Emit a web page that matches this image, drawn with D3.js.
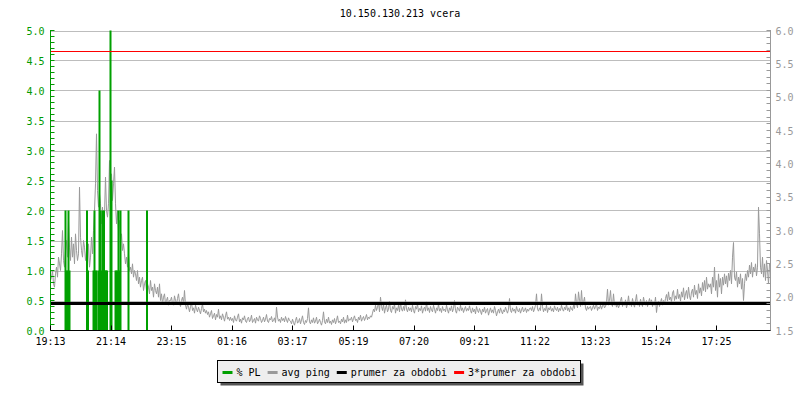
<!DOCTYPE html>
<html><head><meta charset="utf-8">
<script src="https://cdn.jsdelivr.net/npm/d3@7"></script>
<style>
body{margin:0;background:#fff}
svg{display:block}
text{font-family:"DejaVu Sans Mono",monospace;font-size:10px}
</style>
</head><body>
<svg id="c" width="800" height="400"></svg>
<script>
const title = "10.150.130.213 vcera";
const startClock = "19:13";
const pingStepMin = 2;
const ping = [
2.25,2.3,2.4,2.2,2.15,2.35,2.45,2.3,2.6,2.5,2.4,2.65,3.0,2.55,2.45,2.7,2.85,2.6,3.15,2.75,2.55,2.9,2.6,2.8,2.5,2.95,2.7,2.55,2.65,3.65,2.9,2.7,2.6,2.85,2.75,2.55,2.7,2.5,2.8,2.45,2.6,2.9,2.65,3.0,3.3,3.7,4.45,3.6,3.35,3.55,3.4,3.1,3.35,3.0,3.25,3.8,3.3,3.2,3.4,4.05,
3.5,3.85,3.45,3.7,3.95,3.4,3.1,3.3,3.0,3.15,2.85,2.95,2.7,2.8,2.65,2.5,2.6,2.45,2.65,2.4,2.45,2.35,2.5,2.3,2.4,2.35,2.25,2.4,2.2,2.3,2.15,2.25,2.3,2.1,2.2,2.25,2.1,2.2,2.15,2.05,2.25,2.1,2.15,2.0,2.2,2.1,2.05,2.15,2.0,2.2,1.95,2.05,1.9,2.0,2.05,1.9,1.95,2.0,1.88,1.95,
1.95,2.0,1.9,1.88,2.02,1.95,1.9,1.98,2.05,1.92,1.86,1.95,2.0,1.9,2.1,1.88,1.82,1.9,1.85,1.78,1.86,1.92,1.8,1.84,1.76,1.88,1.82,1.78,1.85,1.8,1.75,1.83,1.9,1.78,1.82,1.76,1.8,1.74,1.78,1.7,1.75,1.8,1.68,1.72,1.76,1.66,1.74,1.7,1.82,1.68,1.72,1.66,1.75,1.7,1.64,1.72,1.78,1.67,1.7,1.65,
1.7,1.65,1.68,1.62,1.72,1.66,1.64,1.7,1.75,1.63,1.67,1.61,1.69,1.66,1.72,1.64,1.62,1.68,1.7,1.63,1.66,1.73,1.62,1.65,1.68,1.61,1.7,1.66,1.64,1.72,1.68,1.62,1.65,1.7,1.63,1.67,1.74,1.64,1.62,1.68,1.66,1.71,1.63,1.65,1.69,1.62,1.85,1.7,1.64,1.67,1.62,1.7,1.65,1.68,1.63,1.71,1.66,1.62,1.69,1.65,
1.64,1.6,1.67,1.62,1.58,1.65,1.7,1.61,1.63,1.68,1.6,1.66,1.72,1.62,1.59,1.65,1.62,1.68,1.84,1.63,1.6,1.66,1.62,1.69,1.61,1.64,1.7,1.6,1.63,1.67,1.62,1.58,1.65,1.78,1.63,1.6,1.67,1.62,1.7,1.61,1.64,1.59,1.66,1.62,1.68,1.6,1.65,1.72,1.62,1.64,1.6,1.67,1.63,1.7,1.61,1.66,1.62,1.73,1.64,1.67,
1.66,1.7,1.63,1.68,1.72,1.65,1.67,1.62,1.7,1.66,1.73,1.64,1.68,1.71,1.65,1.69,1.74,1.66,1.7,1.68,1.72,1.7,1.76,1.82,1.78,1.88,1.8,1.85,1.92,1.78,2.0,1.86,1.8,1.9,1.76,1.84,1.88,1.78,1.82,1.94,1.8,1.77,1.86,1.82,1.9,1.76,1.84,1.8,1.88,1.78,1.92,1.82,1.79,1.86,1.8,1.96,1.82,1.78,1.85,1.8,
1.84,1.78,1.88,1.8,1.76,1.86,1.82,1.9,1.78,1.83,1.8,1.87,1.76,1.82,1.85,1.79,1.93,1.8,1.84,1.77,1.86,1.81,1.78,1.88,1.82,1.76,1.84,1.8,1.9,1.79,1.83,1.77,1.86,1.8,1.82,1.78,1.88,1.81,1.76,1.84,1.8,1.87,1.78,1.83,1.95,1.8,1.76,1.85,1.82,1.79,1.88,1.8,1.84,1.77,1.82,1.86,1.79,1.83,1.8,1.87,
1.8,1.76,1.84,1.78,1.82,1.75,1.86,1.8,1.77,1.83,1.79,1.74,1.82,1.78,1.85,1.76,1.8,1.83,1.73,1.79,1.84,1.77,1.81,1.76,1.86,1.8,1.72,1.78,1.82,1.76,1.84,1.79,1.75,1.81,1.78,1.85,1.8,1.76,1.82,1.98,1.8,1.77,1.84,1.79,1.82,1.76,1.86,1.8,1.78,1.83,1.76,1.81,1.85,1.78,1.8,1.84,1.77,1.82,1.79,1.83,
1.84,1.8,1.86,1.78,1.82,1.88,2.05,1.82,1.79,1.84,1.8,2.05,1.86,1.78,1.83,1.8,1.88,1.77,1.84,1.81,1.86,1.79,1.83,1.78,1.87,1.82,1.8,1.85,1.78,1.83,1.8,1.88,1.82,1.79,1.85,1.81,1.9,1.8,1.84,1.78,1.86,1.82,1.8,1.88,1.83,2.05,1.9,1.84,2.08,1.95,1.86,2.1,1.88,1.92,2.0,1.84,1.8,1.86,1.82,1.85,
1.86,1.8,1.84,1.88,1.82,1.86,1.9,1.8,1.85,1.83,1.88,1.82,1.87,1.9,1.84,1.86,1.92,2.12,1.88,1.95,2.1,1.9,1.86,2.05,1.88,1.92,1.85,1.9,1.84,1.88,1.95,2.0,1.86,1.92,1.88,1.96,1.84,1.9,2.02,1.88,1.92,1.86,1.98,1.9,1.85,1.94,2.04,1.88,1.92,1.86,1.97,1.9,1.86,2.0,1.92,1.88,1.95,1.86,1.92,1.98,
1.9,1.96,1.86,1.92,1.88,2.0,1.77,1.9,1.94,1.86,1.92,1.98,1.88,1.95,1.9,1.98,2.04,1.94,2.08,1.96,2.0,1.93,2.06,2.1,1.95,2.02,1.97,2.12,1.98,2.04,1.94,2.08,2.0,2.14,1.96,2.05,2.1,1.98,2.15,2.02,1.96,2.08,2.12,2.0,2.18,2.04,2.1,1.98,2.2,2.06,2.14,2.02,2.22,2.1,2.25,2.08,2.3,2.12,2.2,2.15,
2.2,2.05,2.3,2.15,2.45,2.1,2.25,2.0,2.35,2.15,2.28,2.05,2.3,2.18,2.35,2.2,2.32,2.15,2.36,2.25,2.4,2.2,2.6,2.82,2.3,2.25,2.38,2.15,2.3,2.2,2.35,2.12,2.28,1.95,2.2,2.35,2.25,2.4,2.3,2.48,2.35,2.52,2.3,2.45,2.38,2.5,2.32,2.45,3.35,2.95,2.45,2.35,2.6,2.3,2.5,2.25,2.55,2.4,2.2,2.5
];
// packet loss samples: minutes after start, percent
const plMinute = [30,32,34,36,38,73,75,86,88,90,92,96,98,100,102,104,107,109,111,113,120,122,130,132,134,136,138,140,156,193];
const plValue  = [2.0,1.0,1.0,2.0,1.0,2.0,1.0,1.0,2.0,1.0,1.0,1.0,4.0,2.0,1.0,2.0,2.0,1.0,1.0,1.0,5.0,2.5,1.0,1.0,1.0,2.0,1.0,2.0,2.0,2.0];
const avgPing = 1.9;
const tripleAvgPing = 5.7;
const xTickLabels = ["19:13","21:14","23:15","01:16","03:17","05:19","07:20","09:21","11:22","13:23","15:24","17:25"];
const leftTickLabels = ["0.0","0.5","1.0","1.5","2.0","2.5","3.0","3.5","4.0","4.5","5.0"];
const rightTickLabels = ["1.5","2.0","2.5","3.0","3.5","4.0","4.5","5.0","5.5","6.0"];
const legendLabels = ["% PL","avg ping","prumer za obdobi","3*prumer za obdobi"];
const legendColors = ["#00a000","#999999","#000000","#ff0000"];

const svg = d3.select("#c");
const L = 50.5, R = 770.5, T = 30.5, B = 330.5;
const [sh, sm] = startClock.split(":").map(Number);
const t0 = new Date(2024, 0, 1, sh, sm);
const t1 = d3.timeMinute.offset(t0, 1440);
const x = d3.scaleTime().domain([t0, t1]).range([L, R]);
const yL = d3.scaleLinear().domain([0, 5]).range([B, T]);
const yR = d3.scaleLinear().domain([1.5, 6]).range([B, T]);

svg.append("text").attr("x", 400).attr("y", 17).attr("text-anchor", "middle").attr("fill", "#000").text(title);

// grid
const leftVals = leftTickLabels.map(Number);
svg.append("g").attr("class", "grid").selectAll("line").data(leftVals.filter(v => v > 0)).join("line")
  .attr("x1", L).attr("x2", R).attr("y1", d => Math.round(yL(d)) + 0.5).attr("y2", d => Math.round(yL(d)) + 0.5)
  .style("stroke", "#bdbdbd").style("stroke-width", 1).style("shape-rendering", "crispEdges");

// ping line
const pingData = ping.map((v, i) => ({t: d3.timeMinute.offset(t0, i * pingStepMin), v}));
svg.append("path").datum(pingData)
  .attr("d", d3.line().x(d => x(d.t)).y(d => yR(d.v)))
  .style("fill", "none").style("stroke", "#999999").style("stroke-width", 1);

// packet loss impulses
const plData = plMinute.map((m, i) => ({t: d3.timeMinute.offset(t0, m), v: plValue[i]}));
svg.append("g").attr("class", "pl").selectAll("line").data(plData).join("line")
  .attr("x1", d => x(d.t)).attr("x2", d => x(d.t))
  .attr("y1", yL(0)).attr("y2", d => yL(d.v))
  .style("stroke", "#00a000").style("stroke-width", 2);

// average lines
const avgY = Math.floor(yR(avgPing)) + 0.5;
svg.append("line").attr("x1", L).attr("x2", R).attr("y1", avgY).attr("y2", avgY)
  .style("stroke", "#000000").style("stroke-width", 3).style("shape-rendering", "crispEdges");
svg.append("rect").attr("x", L).attr("y", Math.round(yR(tripleAvgPing)) - 0.5).attr("width", R - L).attr("height", 1)
  .style("fill", "#ff0000").style("shape-rendering", "crispEdges");

// left axis
const gl = svg.append("g");
gl.append("line").attr("x1", L).attr("x2", L).attr("y1", T - 0.5).attr("y2", B).style("stroke", "#009900");
const leftMinor = d3.range(0, 51).map(i => i / 10);
gl.selectAll("line.mt").data(leftMinor).join("line").attr("class", "mt")
  .attr("x1", L).attr("x2", L + 4)
  .attr("y1", d => Math.round(yL(d) - 0.5) + 0.5).attr("y2", d => Math.round(yL(d) - 0.5) + 0.5)
  .style("stroke", "#009900");
gl.selectAll("text").data(leftTickLabels).join("text")
  .attr("x", L - 6).attr("y", d => yL(+d) + 4).attr("text-anchor", "end")
  .style("fill", "#009900").text(d => d);

// right axis
const gr = svg.append("g");
gr.append("line").attr("x1", R).attr("x2", R).attr("y1", T - 0.5).attr("y2", B).style("stroke", "#999999");
const rightMinor = d3.range(15, 61).map(i => i / 10);
gr.selectAll("line.mt").data(rightMinor).join("line").attr("class", "mt")
  .attr("x1", R - 4).attr("x2", R)
  .attr("y1", d => Math.round(yR(d) - 0.5) + 0.5).attr("y2", d => Math.round(yR(d) - 0.5) + 0.5)
  .style("stroke", "#999999");
gr.selectAll("text").data(rightTickLabels).join("text")
  .attr("x", R + 5).attr("y", d => yR(+d) + 4).attr("text-anchor", "start")
  .style("fill", "#999999").text(d => d);

// x axis
const tickTimes = xTickLabels.map(s => {
  const [h, m] = s.split(":").map(Number);
  let d = new Date(2024, 0, 1, h, m);
  if (d < t0) d = d3.timeDay.offset(d, 1);
  return {t: d, s};
});
const gx = svg.append("g");
gx.append("line").attr("x1", L).attr("x2", R).attr("y1", B).attr("y2", B).style("stroke", "#000");
gx.selectAll("line.tk").data(tickTimes).join("line").attr("class", "tk")
  .attr("x1", d => Math.round(x(d.t) - 0.5) + 0.5).attr("x2", d => Math.round(x(d.t) - 0.5) + 0.5)
  .attr("y1", B).attr("y2", B - 5).style("stroke", "#000");
gx.selectAll("text").data(tickTimes).join("text")
  .attr("x", d => x(d.t)).attr("y", B + 14).attr("text-anchor", "middle")
  .style("fill", "#000").text(d => d.s);

// legend
const lg = svg.append("g");
const lx = 217.5, ly = 360.5, lw = 363, lh = 22;
lg.append("rect").attr("x", lx + 3).attr("y", ly + 3).attr("width", lw).attr("height", lh).style("fill", "#555");
lg.append("rect").attr("x", lx).attr("y", ly).attr("width", lw).attr("height", lh).style("fill", "#eeeeee").style("stroke", "#000");
let cx = lx + 5;
legendLabels.forEach((lab, i) => {
  lg.append("line").attr("x1", cx).attr("x2", cx + 10).attr("y1", ly + 12).attr("y2", ly + 12)
    .style("stroke", legendColors[i]).style("stroke-width", 3);
  const t = lg.append("text").attr("x", cx + 14).attr("y", ly + 15).style("fill", "#000").text(lab);
  cx += 14 + t.node().getComputedTextLength() + 7;
});
</script>
</body></html>
